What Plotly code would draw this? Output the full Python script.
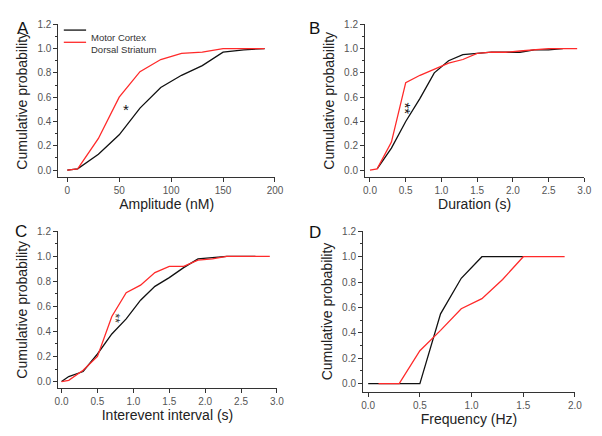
import plotly.graph_objects as go

# panel A: amplitude
amp_x_mc = [0, 10, 30, 50, 70, 90, 110, 130, 150, 170, 190]
amp_y_mc = [0, 0.01, 0.13, 0.29, 0.51, 0.68, 0.78, 0.86, 0.97, 0.99, 1.0]
amp_x_ds = [0, 10, 30, 50, 70, 90, 110, 130, 150, 170, 190]
amp_y_ds = [0, 0.01, 0.26, 0.60, 0.81, 0.91, 0.96, 0.97, 1.0, 1.0, 1.0]

# panel B: duration
dur_x_mc = [0.1, 0.3, 0.5, 0.7, 0.9, 1.1, 1.3, 1.5, 1.7, 1.9, 2.1, 2.3, 2.5, 2.7]
dur_y_mc = [0.01, 0.18, 0.40, 0.59, 0.80, 0.90, 0.95, 0.96, 0.97, 0.97, 0.97, 0.99, 0.99, 1.0]
dur_x_ds = [0, 0.1, 0.3, 0.5, 0.7, 0.9, 1.1, 1.3, 1.5, 1.7, 1.9, 2.1, 2.3, 2.5, 2.7, 2.9]
dur_y_ds = [0, 0.01, 0.23, 0.72, 0.78, 0.83, 0.88, 0.91, 0.96, 0.97, 0.97, 0.98, 0.99, 1.0, 1.0, 1.0]

# panel C: interevent interval
iei_x_mc = [0, 0.1, 0.3, 0.5, 0.7, 0.9, 1.1, 1.3, 1.5, 1.7, 1.9, 2.1, 2.3, 2.5, 2.7]
iei_y_mc = [0, 0.04, 0.08, 0.22, 0.38, 0.50, 0.65, 0.76, 0.83, 0.91, 0.98, 0.99, 1.0, 1.0, 1.0]
iei_x_ds = [0, 0.1, 0.3, 0.5, 0.7, 0.9, 1.1, 1.3, 1.5, 1.7, 1.9, 2.1, 2.3, 2.5, 2.7, 2.9]
iei_y_ds = [0, 0.01, 0.09, 0.20, 0.52, 0.71, 0.77, 0.87, 0.92, 0.92, 0.97, 0.98, 1.0, 1.0, 1.0, 1.0]

# panel D: frequency
frq_x_mc = [0, 0.1, 0.3, 0.5, 0.7, 0.9, 1.1, 1.3, 1.5]
frq_y_mc = [0, 0, 0, 0, 0.55, 0.83, 1.0, 1.0, 1.0]
frq_x_ds = [0.1, 0.3, 0.5, 0.7, 0.9, 1.1, 1.3, 1.5, 1.7, 1.9]
frq_y_ds = [0, 0, 0.26, 0.42, 0.59, 0.67, 0.82, 1.0, 1.0, 1.0]

BLACK = "#111111"
RED = "#ff2a2a"
FONT = "Liberation Sans, Arial, sans-serif"

panels = [
    ("x", "y", amp_x_mc, amp_y_mc, amp_x_ds, amp_y_ds),
    ("x2", "y2", dur_x_mc, dur_y_mc, dur_x_ds, dur_y_ds),
    ("x3", "y3", iei_x_mc, iei_y_mc, iei_x_ds, iei_y_ds),
    ("x4", "y4", frq_x_mc, frq_y_mc, frq_x_ds, frq_y_ds),
]

fig = go.Figure()
for xa, ya, xm, ym, xd, yd in panels:
    fig.add_trace(go.Scatter(x=xm, y=ym, xaxis=xa, yaxis=ya, mode="lines",
                             line=dict(color=BLACK, width=1.3),
                             name="Motor Cortex", showlegend=False))
    fig.add_trace(go.Scatter(x=xd, y=yd, xaxis=xa, yaxis=ya, mode="lines",
                             line=dict(color=RED, width=1.3),
                             name="Dorsal Striatum", showlegend=False))


def xax(domain, rng, dtick, fmt, title, anchor):
    return dict(domain=domain, range=rng, dtick=dtick, tick0=0, tickformat=fmt,
                showgrid=False, zeroline=False, showline=True, linecolor="#333",
                linewidth=1, ticks="outside", ticklen=4, tickcolor="#333",
                minor=dict(ticks="outside", ticklen=2, tickcolor="#333", nticks=2),
                tickfont=dict(size=10, color="#555", family=FONT), automargin=False,
                title=dict(text=title, font=dict(size=14, color="#222", family=FONT), standoff=3),
                anchor=anchor)


def yax(domain, rng, anchor):
    return dict(domain=domain, range=rng, dtick=0.2, tick0=0, tickformat=".1f",
                showgrid=False, zeroline=False, showline=True, linecolor="#333",
                linewidth=1, ticks="outside", ticklen=4, tickcolor="#333",
                minor=dict(ticks="outside", ticklen=2, tickcolor="#333", nticks=2),
                tickfont=dict(size=10, color="#555", family=FONT), automargin=False,
                title=dict(text="Cumulative probability", font=dict(size=14, color="#222", family=FONT), standoff=6),
                anchor=anchor)


fig.update_layout(
    width=602, height=436,
    margin=dict(l=0, r=0, t=0, b=0, autoexpand=False),
    paper_bgcolor="white", plot_bgcolor="white",
    font=dict(family=FONT),
    showlegend=False,
    xaxis=xax([0.0969, 0.4568], [-8.6, 200], 50, "d", "Amplitude (nM)", "y"),
    yaxis=yax([0.5933, 0.9443], [-0.06, 1.2], "x"),
    xaxis2=xax([0.6063, 0.9706], [-0.07, 3.0], 0.5, ".1f", "Duration (s)", "y2"),
    yaxis2=yax([0.5933, 0.9443], [-0.06, 1.2], "x2"),
    xaxis3=xax([0.0963, 0.4601], [-0.05, 3.0], 0.5, ".1f", "Interevent interval (s)", "y3"),
    yaxis3=yax([0.1094, 0.4695], [-0.054, 1.2], "x3"),
    xaxis4=xax([0.6030, 0.9551], [-0.05, 2.0], 0.5, ".1f", "Frequency (Hz)", "y4"),
    yaxis4=yax([0.1016, 0.4695], [-0.063, 1.2], "x4"),
)

# legend keys in panel A (paper coordinates)
for name, color, yy in [("Motor Cortex", BLACK, 0.931), ("Dorsal Striatum", RED, 0.903)]:
    fig.add_shape(type="line", xref="paper", yref="paper", x0=0.106, x1=0.143, y0=yy, y1=yy,
                  line=dict(color=color, width=1.3))
    fig.add_annotation(text=name, x=0.148, y=yy, xref="paper", yref="paper", xanchor="left",
                       showarrow=False, font=dict(size=9.5, color="#333", family=FONT))

for letter, x, y in [("A", 0.025, 0.962), ("B", 0.522, 0.962), ("C", 0.022, 0.468), ("D", 0.524, 0.466)]:
    fig.add_annotation(text=letter, x=x, y=y, xref="paper", yref="paper",
                       showarrow=False, font=dict(size=17, color="#111", family=FONT))

fig.add_annotation(text="*", x=56.5, y=0.50, xref="x", yref="y", showarrow=False,
                   font=dict(size=15, color="#111", family=FONT))
fig.add_annotation(text="**", x=0.50, y=0.51, xref="x2", yref="y2", showarrow=False,
                   textangle=90, font=dict(size=15, color="#111", family=FONT))
fig.add_annotation(text="**", x=0.75, y=0.50, xref="x3", yref="y3", showarrow=False,
                   textangle=90, font=dict(size=12, color="#333", family=FONT))

fig.write_html("out.html", config={"displayModeBar": False},
               post_script="document.body.style.margin='0';")
